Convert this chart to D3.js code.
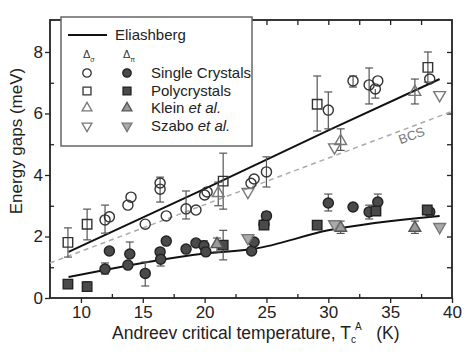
<!DOCTYPE html>
<html>
<head>
<meta charset="utf-8">
<script src="https://cdn.jsdelivr.net/npm/d3@7"></script>
<style>
  body { margin: 0; background: #fff; }
  svg { font-family: "Liberation Sans", Arial, sans-serif; }
</style>
</head>
<body>
<svg id="chart" width="471" height="364"></svg>
<script>
// data: [Tc (K), gap (meV), error low, error high] -- null = no error bar
const singleSigma = [
    [11.95, 2.54, 2.11, 3.02], [12.3, 2.64, null, null], [13.8, 3.02, null, null], [14.05, 3.28, null, null],
    [15.2, 2.4, null, null], [16.4, 3.74, 3.12, 3.93], [16.4, 3.54, null, null], [16.9, 2.67, null, null],
    [18.5, 2.9, 2.57, 3.48], [19.3, 2.86, null, null], [20.0, 3.35, null, null], [20.2, 3.45, null, null],
    [23.75, 3.73, null, null], [24.0, 3.87, null, null], [25.0, 4.1, 3.61, 4.59],
    [30.0, 6.11, 5.5, 6.7], [32.0, 7.06, 6.86, 7.22], [33.3, 6.93, 6.31, 7.48], [33.8, 6.8, 6.5, null],
    [34.0, 7.06, null, null], [38.2, 7.12, null, null]
];
const polySigma = [
    [8.95, 1.81, 1.33, 2.28], [10.5, 2.4, 1.89, 2.89], [21.5, 3.8, 2.89, 4.71],
    [29.1, 6.3, 5.43, 7.22], [38.05, 7.5, 7.02, 8.0]
];
const kleinSigma = [[21.1, 3.41, 3.0, 3.77], [31.0, 5.1, 4.8, 5.5], [37.0, 6.7, 6.31, 7.12]];
const szaboSigma = [[23.5, 3.45, null, null], [30.5, 4.9, null, null], [39.0, 6.6, null, null]];

const singlePi = [
    [11.95, 0.94, 0.78, 1.14], [12.3, 1.53, null, null], [13.8, 1.07, null, null], [13.95, 1.43, null, 1.82],
    [15.2, 0.8, 0.39, 1.17], [16.4, 1.5, null, null], [16.45, 1.26, 1.04, 1.4], [16.9, 1.85, null, null],
    [18.5, 1.59, null, null], [19.3, 1.79, null, null], [19.95, 1.7, null, 1.86], [20.1, 1.5, null, null],
    [23.8, 1.53, null, null], [24.0, 1.82, null, null], [24.8, 2.4, null, null], [25.0, 2.67, null, 2.8],
    [30.0, 3.09, 2.83, 3.38], [32.0, 2.96, null, null], [33.3, 2.8, 2.57, 3.02], [34.0, 3.12, null, 3.38],
    [38.2, 2.8, null, null]
];
const polyPi = [
    [8.95, 0.45, 0.32, 0.58], [10.5, 0.37, 0.28, 0.53], [21.5, 1.72, 1.24, 2.2],
    [24.8, 2.37, null, null], [29.1, 2.37, null, null], [33.85, 2.83, null, null], [38.0, 2.86, null, null]
];
const kleinPi = [[21.0, 1.75, 1.5, 1.95], [31.0, 2.28, 2.1, 2.5], [37.0, 2.28, 2.1, 2.5]];
const szaboPi = [[23.5, 1.95, null, null], [30.5, 2.4, null, null], [39.0, 2.31, null, null]];

// Eliashberg curves and BCS line
const eliashbergSigma = [[9, 1.5], [20, 3.55], [30, 5.45], [39, 7.12]];
const eliashbergPi = [[9, 0.68], [20, 1.45], [24, 1.6], [30, 2.2], [39, 2.67]];
const bcsSlope = 0.1517; // 1.76 kB Tc in meV/K
const bcsRange = [7.5, 40];

const xTicks = [10, 15, 20, 25, 30, 35, 40];
const yTicks = [0, 2, 4, 6, 8];

const svg = d3.select('#chart');
const m = { left: 50, right: 452, top: 20, bottom: 298 };

const x = d3.scaleLinear().domain([7.5, 40]).range([m.left, m.right]);
const y = d3.scaleLinear().domain([0, 9.04]).range([m.bottom, m.top]);

// Axes frame
const axisG = svg.append('g');
const bottomAxis = d3.axisBottom(x).tickValues(xTicks).tickSize(5).tickPadding(3);
axisG.append('g').attr('transform', `translate(0,${m.bottom})`).call(bottomAxis);
const leftAxis = d3.axisLeft(y).tickValues(yTicks).tickSize(5).tickPadding(2);
axisG.append('g').attr('transform', `translate(${m.left},0)`).call(leftAxis);
// minor ticks inside
axisG.append('g').attr('transform', `translate(0,${m.bottom})`)
    .call(d3.axisTop(x).tickValues(d3.range(12.5, 40, 5)).tickSize(4).tickFormat(''));
axisG.append('g').attr('transform', `translate(${m.left},0)`)
    .call(d3.axisRight(y).tickValues([1, 3, 5, 7]).tickSize(4).tickFormat(''));
// mirrored top/right
axisG.append('g').attr('transform', `translate(0,${m.top})`)
    .call(d3.axisBottom(x).tickValues(d3.range(10, 40, 2.5)).tickSize(5).tickFormat(''));
axisG.append('g').attr('transform', `translate(${m.right},0)`)
    .call(d3.axisLeft(y).tickValues(d3.range(1, 9, 1)).tickSize(5).tickFormat(''));

axisG.selectAll('.domain').remove();
axisG.selectAll('line').attr('stroke', '#222').attr('stroke-width', 1.3);
axisG.selectAll('text').attr('font-size', 17).attr('fill', '#222')
    .attr('font-family', '"Liberation Sans", Arial, sans-serif');
axisG.append('rect')
    .attr('x', m.left).attr('y', m.top).attr('width', m.right - m.left).attr('height', m.bottom - m.top)
    .attr('fill', 'none').attr('stroke', '#222').attr('stroke-width', 1.8);

// Axis titles
svg.append('text')
    .attr('transform', 'translate(22,141) rotate(-90)')
    .attr('text-anchor', 'middle').attr('font-size', 17).attr('fill', '#222')
    .text('Energy gaps (meV)');

const xTitle = svg.append('text')
    .attr('x', 112).attr('y', 339).attr('font-size', 17.5).attr('fill', '#222');
xTitle.append('tspan').text('Andreev critical temperature, T');
xTitle.append('tspan').attr('font-size', 10).attr('dy', 4).text('c');
xTitle.append('tspan').attr('font-size', 10).attr('dy', -13).attr('dx', -1).text('A');
xTitle.append('tspan').attr('dy', 9).text('\u00a0\u00a0\u00a0(K)');

// Lines
const line = d3.line().x(d => x(d[0])).y(d => y(d[1])).curve(d3.curveMonotoneX);
svg.append('path').datum(bcsRange.map(t => [t, bcsSlope * t]))
    .attr('d', line).attr('fill', 'none').attr('stroke', '#aaa')
    .attr('stroke-width', 1.5).attr('stroke-dasharray', '5,4');
svg.append('path').datum(eliashbergSigma).attr('d', line)
    .attr('fill', 'none').attr('stroke', '#111').attr('stroke-width', 2);
svg.append('path').datum(eliashbergPi).attr('d', line)
    .attr('fill', 'none').attr('stroke', '#111').attr('stroke-width', 2);

svg.append('text')
    .attr('transform', `translate(${x(36.85)},${y(5.15)}) rotate(-20)`)
    .attr('font-size', 13).attr('fill', '#777').attr('text-anchor', 'middle')
    .text('BCS');

// Markers
const styles = [
    { data: singleSigma, shape: d3.symbolCircle, size: 80, fill: '#fff', stroke: '#333' },
    { data: polySigma, shape: d3.symbolSquare, size: 90, fill: '#fff', stroke: '#333' },
    { data: kleinSigma, shape: d3.symbolTriangle, size: 60, fill: '#fff', stroke: '#777' },
    { data: szaboSigma, shape: d3.symbolTriangle, size: 60, fill: '#fff', stroke: '#777', down: true },
    { data: singlePi, shape: d3.symbolCircle, size: 80, fill: '#4a4a4a', stroke: '#222' },
    { data: polyPi, shape: d3.symbolSquare, size: 90, fill: '#4a4a4a', stroke: '#222' },
    { data: kleinPi, shape: d3.symbolTriangle, size: 60, fill: '#999', stroke: '#555' },
    { data: szaboPi, shape: d3.symbolTriangle, size: 60, fill: '#aaa', stroke: '#777', down: true }
];

const errG = svg.append('g').attr('stroke', '#555').attr('stroke-width', 1.2);
styles.forEach(s => {
    s.data.forEach(d => {
        const lo = d[2] == null ? d[1] : d[2];
        const hi = d[3] == null ? d[1] : d[3];
        if (lo === hi) return;
        const cx = x(d[0]);
        errG.append('line').attr('x1', cx).attr('x2', cx).attr('y1', y(lo)).attr('y2', y(hi));
        if (d[2] != null) errG.append('line').attr('x1', cx - 4).attr('x2', cx + 4).attr('y1', y(lo)).attr('y2', y(lo));
        if (d[3] != null) errG.append('line').attr('x1', cx - 4).attr('x2', cx + 4).attr('y1', y(hi)).attr('y2', y(hi));
    });
});

const markG = svg.append('g');
styles.forEach(s => {
    markG.selectAll(null).data(s.data).enter().append('path')
        .attr('d', d3.symbol().type(s.shape).size(s.size))
        .attr('transform', d => `translate(${x(d[0])},${y(d[1])})${s.down ? ' rotate(180)' : ''}`)
        .attr('fill', s.fill).attr('fill-opacity', s.fill === '#fff' ? 0 : 1)
        .attr('stroke', s.stroke).attr('stroke-width', 1.4);
});

// Legend
const lg = svg.append('g');
lg.append('rect').attr('x', 61).attr('y', 17).attr('width', 191).attr('height', 129)
    .attr('fill', '#fff').attr('stroke', '#666').attr('stroke-width', 1.5);
lg.append('line').attr('x1', 68).attr('x2', 107).attr('y1', 35).attr('y2', 35)
    .attr('stroke', '#111').attr('stroke-width', 2);
lg.append('text').attr('x', 115).attr('y', 40).attr('font-size', 15).attr('fill', '#222').text('Eliashberg');

[['\u0394', '\u03c3', 87], ['\u0394', '\u03c0', 127]].forEach(h => {
    const t = lg.append('text').attr('x', h[2] - 4).attr('y', 58).attr('font-size', 11).attr('fill', '#333');
    t.append('tspan').text(h[0]);
    t.append('tspan').attr('font-size', 7).attr('dy', 4).text(h[1]);
});

const legendRows = [
    { y: 73, open: styles[0], filled: styles[4], label: ['Single Crystals'] },
    { y: 91, open: styles[1], filled: styles[5], label: ['Polycrystals'] },
    { y: 108, open: styles[2], filled: styles[6], label: ['Klein ', 'et al.'] },
    { y: 126, open: styles[3], filled: styles[7], label: ['Szabo ', 'et al.'] }
];
legendRows.forEach(r => {
    [[r.open, 87], [r.filled, 127]].forEach(([s, cx]) => {
        lg.append('path')
            .attr('d', d3.symbol().type(s.shape).size(s.size * 0.7))
            .attr('transform', `translate(${cx},${r.y})${s.down ? ' rotate(180)' : ''}`)
            .attr('fill', s.fill).attr('stroke', s.stroke).attr('stroke-width', 1.3);
    });
    const t = lg.append('text').attr('x', 151).attr('y', r.y + 5).attr('font-size', 15).attr('fill', '#222');
    t.append('tspan').text(r.label[0]);
    if (r.label[1]) t.append('tspan').attr('font-style', 'italic').text(r.label[1]);
});
</script>
</body>
</html>
